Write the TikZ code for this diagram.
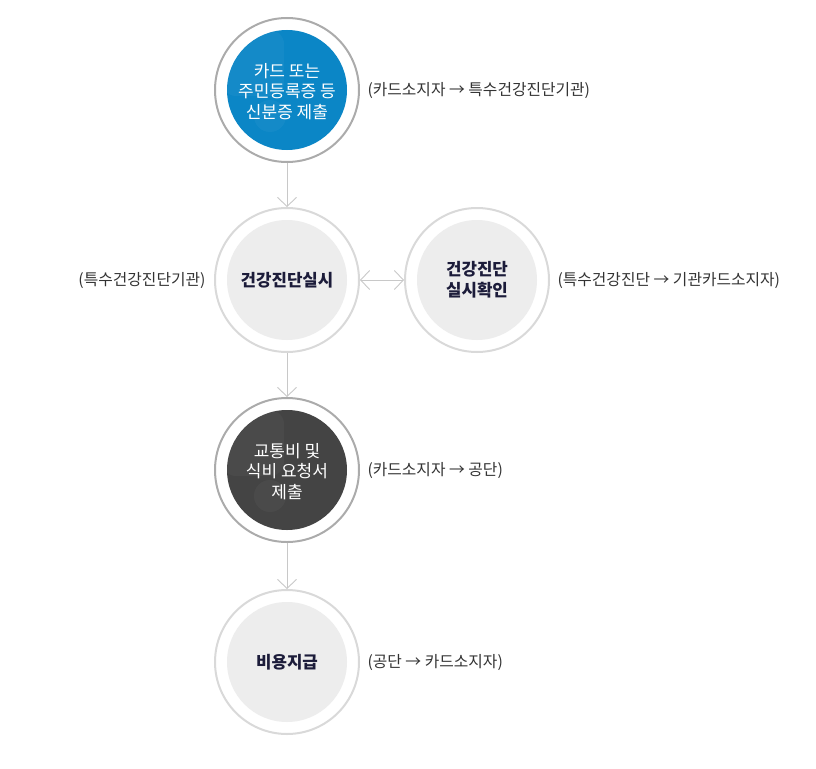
\documentclass[tikz,border=0pt]{standalone}
\usepackage{fontspec}
\setmainfont{Noto Sans CJK KR}
\usetikzlibrary{arrows.meta,positioning}
\definecolor{cardblue}{HTML}{0B86C6}
\definecolor{slip}{HTML}{444444}
\definecolor{pale}{HTML}{EDEDED}
\definecolor{ringdark}{HTML}{ABABAB}
\definecolor{ringlight}{HTML}{D9D9D9}
\definecolor{flowgray}{HTML}{C8C8C8}
\definecolor{notegray}{HTML}{333333}
\definecolor{navy}{HTML}{1C1C3A}

\begin{document}
\begin{tikzpicture}[x=1pt,y=-1pt,
  ring/.style={circle,draw=#1,line width=2pt,fill=white,minimum size=144pt,inner sep=0pt},
  core/.style={circle,fill=#1,minimum size=120pt,inner sep=0pt},
  whitetext/.style={text=white,align=center,yshift=-1.5pt,font=\fontsize{17}{20.5}\selectfont},
  paletext/.style={text=navy,align=center,font=\fontsize{16.8}{21}\selectfont\bfseries},
  flow/.style={draw=flowgray,line width=0.9pt,-{Straight Barb[length=9pt,width=19pt]}},
  note/.style={text=notegray,yshift=-1pt,font=\fontsize{15.8}{18}\selectfont}]
      \useasboundingbox (0,0) rectangle (816,768);
      \node[ring=ringdark] (c1) at (287,90) {};
      \node[core=cardblue] (t1) at (c1) {};
      \begin{scope}
        \clip (287pt,-90pt) circle (60pt);
        \fill[white,opacity=.04,rounded corners=14pt] (222,30) rectangle (284,96);
        \fill[white,opacity=.04] (270,116) circle (16pt);
      \end{scope}
      \node[whitetext] (l1) at (c1) {카드 또는\\주민등록증 등\\신분증 제출};
      \node[ring=ringlight] (c2) at (287,280) {};
      \node[core=pale,paletext] (t2) at (c2) {건강진단실시};
      \node[ring=ringlight] (c3) at (477,280) {};
      \node[core=pale,paletext] (t3) at (c3) {건강진단\\실시확인};
      \node[ring=ringdark] (c4) at (287,470) {};
      \node[core=slip] (t4) at (c4) {};
      \begin{scope}
        \clip (287pt,-470pt) circle (60pt);
        \fill[white,opacity=.035,rounded corners=14pt] (222,410) rectangle (284,476);
        \fill[white,opacity=.035] (270,496) circle (16pt);
      \end{scope}
      \node[whitetext] (l4) at (c4) {교통비 및\\식비 요청서\\제출};
      \node[ring=ringlight] (c5) at (287,662) {};
      \node[core=pale,paletext] (t5) at (c5) {비용지급};
      \draw[flow] (c1) -- (c2);
      \draw[flow,{Straight Barb[length=9pt,width=19pt]}-{Straight Barb[length=9pt,width=19pt]}] (c2) -- (c3);
      \draw[flow] (c2) -- (c4);
      \draw[flow] (c4) -- (c5);
      \node[note,right=4pt of c1] (n1) {(카드소지자 → 특수건강진단기관)};
      \node[note,left=5pt of c2] (n2) {(특수건강진단기관)};
      \node[note,right=4pt of c3] (n3) {(특수건강진단 → 기관카드소지자)};
      \node[note,right=4pt of c4] (n4) {(카드소지자 → 공단)};
      \node[note,right=4pt of c5] (n5) {(공단 → 카드소지자)};
\end{tikzpicture}
\end{document}
